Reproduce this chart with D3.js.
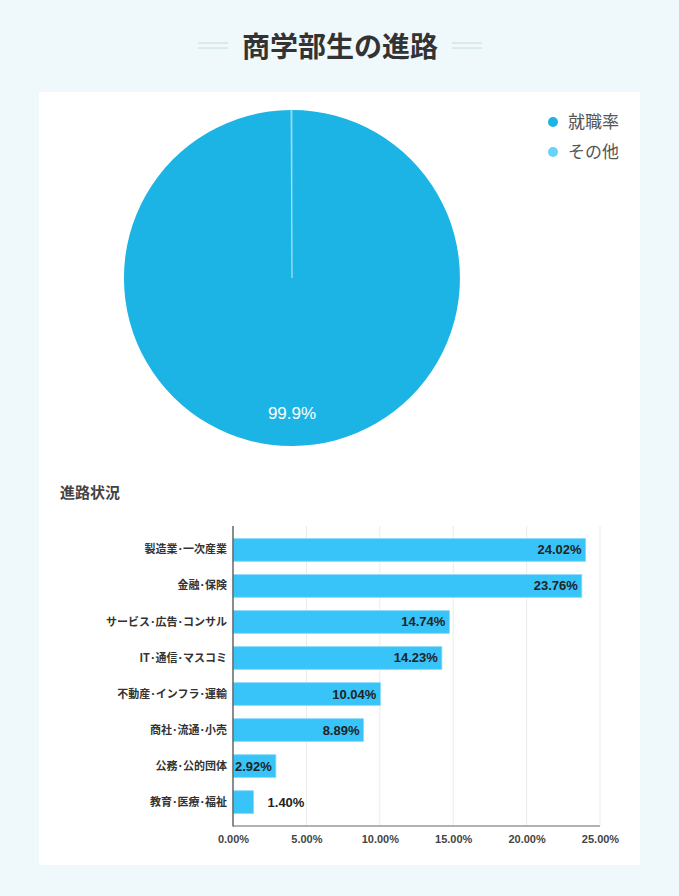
<!DOCTYPE html>
<html>
<head>
<meta charset="utf-8">
<style>
body { margin: 0; background: #eff8fb; }
text { font-family: "Liberation Sans", "Noto Sans CJK JP", sans-serif; }
.cjk { font-family: "Noto Sans CJK JP", sans-serif; }
.grid line { stroke: #ebebeb; }
.axis path, .axis line { display: none; }
</style>
<title>商学部生の進路</title>
<script src="https://cdn.jsdelivr.net/npm/d3@7"></script>
</head>
<body>
<svg width="679" height="896"></svg>
<script>

var pieLabels = ["就職率", "その他"];
var pieValues = [99.9, 0.1];
var pieColors = ["#1bb4e5", "#66d3f7"];

var categories = ["製造業･一次産業", "金融･保険", "サービス･広告･コンサル", "IT･通信･マスコミ",
                  "不動産･インフラ･運輸", "商社･流通･小売", "公務･公的団体", "教育･医療･福祉"];
var values = [24.02, 23.76, 14.74, 14.23, 10.04, 8.89, 2.92, 1.40];
var xTicks = [0, 5, 10, 15, 20, 25];

var svg = d3.select("svg");

// card
svg.append("rect")
    .attr("x", 39).attr("y", 92)
    .attr("width", 601).attr("height", 773)
    .attr("fill", "#fff");

// title + side lines
svg.append("text")
    .attr("class", "cjk")
    .attr("x", 340).attr("y", 57)
    .attr("text-anchor", "middle")
    .attr("font-size", 28)
    .attr("font-weight", "bold")
    .attr("fill", "#333")
    .text("商学部生の進路");

[[198, 228], [452, 482]].forEach(function(s) {
  [43, 48].forEach(function(yy) {
    svg.append("line")
      .attr("x1", s[0]).attr("x2", s[1])
      .attr("y1", yy).attr("y2", yy)
      .attr("stroke", "#d9e9ee")
      .attr("stroke-width", 2);
  });
});

// pie
var pie = d3.pie().sort(null).value(function(d) { return d; });
var arc = d3.arc().innerRadius(0).outerRadius(168);

var pg = svg.append("g").attr("transform", "translate(292,278)");
pg.selectAll("path")
    .data(pie(pieValues))
    .enter().append("path")
      .attr("d", arc)
      .attr("fill", function(d, i) { return pieColors[i]; })
      .attr("stroke", function(d, i) { return i == 1 ? "#9fe0f7" : "none"; })
      .attr("stroke-width", 0.8);

pg.selectAll(".plabel")
    .data(pie(pieValues).filter(function(d) { return d.data > 5; }))
    .enter().append("text")
      .attr("class", "plabel")
      .attr("x", 0)
      .attr("y", 141)
      .attr("text-anchor", "middle")
      .attr("font-size", 17)
      .attr("fill", "#fff")
      .text(function(d) { return d.data + "%"; });

// legend
var lg = svg.append("g").attr("transform", "translate(553,122)");
pieLabels.forEach(function(t, i) {
  lg.append("circle")
    .attr("cx", 0).attr("cy", i * 30)
    .attr("r", 5)
    .attr("fill", pieColors[i]);
  lg.append("text")
    .attr("class", "cjk")
    .attr("x", 15).attr("y", i * 30 + 6)
    .attr("font-size", 17)
    .attr("fill", "#555")
    .text(t);
});

// bar chart
svg.append("text")
    .attr("class", "cjk")
    .attr("x", 60).attr("y", 498)
    .attr("font-size", 15)
    .attr("font-weight", "bold")
    .attr("fill", "#444")
    .text("進路状況");

var x = d3.scaleLinear().domain([0, 25]).range([233, 600]);
var y = d3.scaleBand().domain(categories).range([526, 826])
    .paddingInner(0.37).paddingOuter(0.35);

svg.append("g")
    .attr("class", "grid")
    .selectAll("line")
    .data(xTicks.slice(1))
    .enter().append("line")
      .attr("x1", function(d) { return x(d); })
      .attr("x2", function(d) { return x(d); })
      .attr("y1", 526).attr("y2", 826);

svg.selectAll(".bar")
    .data(values)
    .enter().append("rect")
      .attr("class", "bar")
      .attr("x", x(0))
      .attr("y", function(d, i) { return y(categories[i]); })
      .attr("width", function(d) { return x(d) - x(0); })
      .attr("height", y.bandwidth())
      .attr("fill", "#38c4f9")
      .attr("stroke", "#8adaf9")
      .attr("stroke-width", 0.8);

svg.selectAll(".vlabel")
    .data(values)
    .enter().append("text")
      .attr("class", "vlabel")
      .attr("y", function(d, i) { return y(categories[i]) + y.bandwidth() / 2 + 4.5; })
      .attr("font-size", 13)
      .attr("font-weight", "bold")
      .attr("fill", "#222")
      .each(function(d) {
        var w = x(d) - x(0);
        var t = d3.select(this);
        if (w > 40) {
          t.attr("x", x(d) - 4).attr("text-anchor", "end");
        } else {
          t.attr("x", x(d) + 14).attr("text-anchor", "start");
        }
      })
      .text(function(d) { return d.toFixed(2) + "%"; });

// axes
svg.append("g")
    .attr("class", "axis")
    .attr("transform", "translate(0,826)")
    .call(d3.axisBottom(x).tickValues(xTicks).tickSize(0).tickPadding(9)
      .tickFormat(function(d) { return d.toFixed(2) + "%"; }))
    .selectAll("text")
      .attr("font-size", 11)
      .attr("font-weight", "bold")
      .attr("fill", "#444")
      .style("font-family", "'Liberation Sans', sans-serif");

svg.append("g")
    .attr("class", "axis")
    .attr("transform", "translate(227,0)")
    .call(d3.axisLeft(y).tickSize(0).tickPadding(0))
    .selectAll("text")
      .attr("font-size", 11)
      .attr("font-weight", "bold")
      .attr("fill", "#333")
      .style("font-family", "'Noto Sans CJK JP', sans-serif");

svg.append("line")
    .attr("x1", x(0)).attr("x2", x(25))
    .attr("y1", 826).attr("y2", 826)
    .attr("stroke", "#999").attr("stroke-width", 1.5);
svg.append("line")
    .attr("x1", x(0)).attr("x2", x(0))
    .attr("y1", 526).attr("y2", 826.5)
    .attr("stroke", "#666").attr("stroke-width", 1.5);

</script>
</body>
</html>
